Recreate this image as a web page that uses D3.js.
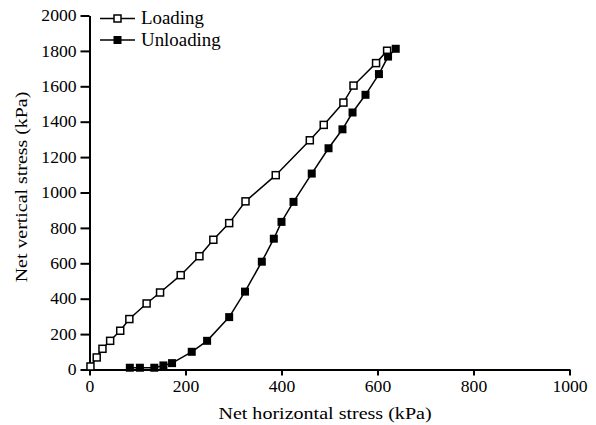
<!DOCTYPE html>
<html>
<head>
<meta charset="utf-8">
<script src="https://cdn.jsdelivr.net/npm/d3@7"></script>
<style>
  body { margin: 0; background: #fff; }
  svg text { font-family: "Liberation Serif", "Times New Roman", serif; fill: #000; }
</style>
</head>
<body>
<script>
// loading path (net horizontal, net vertical) in kPa
const loadX = [2, 15, 27, 43, 64, 83, 119, 147, 190, 229, 258, 291, 325, 388, 459, 488, 529, 550, 597, 620]
const loadY = [17, 68, 117, 162, 219, 285, 373, 435, 533, 640, 733, 827, 950, 1098, 1295, 1382, 1508, 1604, 1731, 1801]
// unloading path
const unloadX = [84, 105, 135, 154, 172, 213, 245, 291, 324, 359, 384, 400, 425, 463, 498, 527, 548, 575, 603, 622, 638]
const unloadY = [10, 10, 10, 23, 36, 100, 162, 296, 440, 609, 739, 834, 947, 1107, 1250, 1357, 1452, 1552, 1669, 1768, 1812]

const xTicks = [0, 200, 400, 600, 800, 1000]
const yTicks = [0, 200, 400, 600, 800, 1000, 1200, 1400, 1600, 1800, 2000]

const W = 596, H = 425
const x = d3.scaleLinear().domain([0, 1000]).range([89.5, 569.5])
const y = d3.scaleLinear().domain([0, 2000]).range([369.5, 15.5])

const svg = d3.select("body").append("svg").attr("width", W).attr("height", H)

// axes
const gx = svg.append("g").attr("transform", "translate(0," + y(0) + ")")
  .call(d3.axisBottom(x).tickValues(xTicks).tickFormat(d3.format("d"))
    .tickSize(6).tickSizeOuter(0).tickPadding(5))
const gy = svg.append("g").attr("transform", "translate(" + x(0) + ",0)")
  .call(d3.axisLeft(y).tickValues(yTicks).tickFormat(d3.format("d"))
    .tickSize(9).tickSizeOuter(0).tickPadding(4))

svg.selectAll(".domain, .tick line").attr("stroke", "#000").attr("stroke-width", 2)
svg.selectAll(".tick text").attr("font-size", 16).attr("fill", "#000")
gx.selectAll(".tick text").attr("transform", "scale(1.1,1)")
gy.selectAll(".tick text").attr("x", -13 / 1.1).attr("transform", "scale(1.1,1)")

// axis titles
svg.append("text")
  .attr("transform", "translate(325,419) scale(1.18,1)")
  .attr("text-anchor", "middle").attr("font-size", 17)
  .text("Net horizontal stress (kPa)")
svg.append("text")
  .attr("transform", "translate(27,187) rotate(-90) scale(1.17,1)")
  .attr("text-anchor", "middle").attr("font-size", 17)
  .text("Net vertical stress (kPa)")

const line = d3.line().x(d => x(d[0])).y(d => y(d[1]))
const loadPts = loadX.map((v, i) => [v, loadY[i]])
const unloadPts = unloadX.map((v, i) => [v, unloadY[i]])

function drawSeries(pts, open) {
  svg.append("path").datum(pts)
    .attr("d", line).attr("fill", "none").attr("stroke", "#000").attr("stroke-width", 1.5)
  const s = open ? 7 : 8
  svg.append("g").selectAll("rect").data(pts).enter().append("rect")
    .attr("x", d => x(d[0]) - s / 2)
    .attr("y", d => y(d[1]) - s / 2)
    .attr("width", s).attr("height", s)
    .attr("fill", open ? "#fff" : "#000")
    .attr("stroke", "#000").attr("stroke-width", open ? 1.5 : 0)
}
drawSeries(loadPts, true)
drawSeries(unloadPts, false)

// legend
const legend = [{name: "Loading", open: true, yy: 18.5}, {name: "Unloading", open: false, yy: 40}]
legend.forEach(l => {
  svg.append("line").attr("x1", 100).attr("x2", 135).attr("y1", l.yy).attr("y2", l.yy)
    .attr("stroke", "#000").attr("stroke-width", 1.5)
  const s = l.open ? 7 : 8
  svg.append("rect").attr("x", 117.5 - s / 2).attr("y", l.yy - s / 2)
    .attr("width", s).attr("height", s)
    .attr("fill", l.open ? "#fff" : "#000")
    .attr("stroke", "#000").attr("stroke-width", l.open ? 1.5 : 0)
  svg.append("text")
    .attr("transform", "translate(141," + (l.yy + 5.8) + ") scale(1.05,1)")
    .attr("font-size", 18).text(l.name)
})
</script>
</body>
</html>
